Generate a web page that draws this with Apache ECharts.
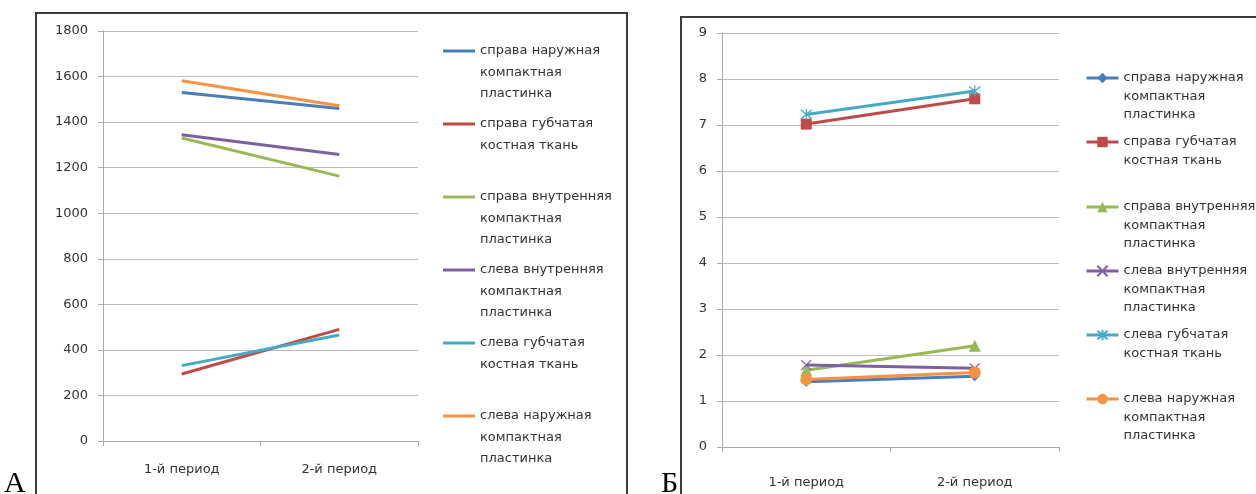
<!DOCTYPE html>
<html>
<head>
<meta charset="utf-8">
<script src="https://cdn.jsdelivr.net/npm/echarts@6/dist/echarts.min.js"></script>
<style>
html,body{margin:0;padding:0;background:#fff;}
#wrap{position:relative;width:1256px;height:494px;overflow:hidden;}
#chartA{position:absolute;left:0;top:0;width:640px;height:494px;}
#chartB{position:absolute;left:640px;top:0;width:616px;height:494px;}
</style>
</head>
<body>
<div id="wrap"><div id="chartA"></div><div id="chartB"></div></div>
<script>
// ---- data ----
const categories = ['1-й период', '2-й период'];
const seriesNames = [
  'справа наружная\nкомпактная\nпластинка',
  'справа губчатая\nкостная ткань',
  'справа внутренняя\nкомпактная\nпластинка',
  'слева внутренняя\nкомпактная\nпластинка',
  'слева губчатая\nкостная ткань',
  'слева наружная\nкомпактная\nпластинка'
];
// Chart А
const aRightOuter  = [1530, 1460];
const aRightSpongy = [294, 490];
const aRightInner  = [1330, 1163];
const aLeftInner   = [1345, 1258];
const aLeftSpongy  = [331, 465];
const aLeftOuter   = [1582, 1472];
const aAxisMax = 1800, aAxisStep = 200;
// Chart Б
const bRightOuter  = [1.42, 1.54];
const bRightSpongy = [7.02, 7.57];
const bRightInner  = [1.67, 2.20];
const bLeftInner   = [1.78, 1.71];
const bLeftSpongy  = [7.23, 7.74];
const bLeftOuter   = [1.47, 1.62];
const bAxisMax = 9, bAxisStep = 1;
const panelLabels = ['А', 'Б'];

// ---- styles ----
const colors = ['#4A7EBB', '#BE4B48', '#98B954', '#7D60A0', '#46AAC5', '#F69240'];
const FONT = 'DejaVu Sans';
const TXT = '#333333';
const GRIDC = '#bdbdbd';
const AXC = '#ababab';

// legend entry whose icon lines up with the first text line
function legendFor(name, left, iconY, lh, itemWidth, itemHeight, icon) {
  const n = name.split('\n').length;
  const lead = Array(n - 1).fill(' ').join('\n');
  const total = 2 * n - 1;
  const lg = {
    show: true, orient: 'vertical', left: left, top: iconY - total * lh / 2,
    padding: 0, itemGap: 0, itemWidth: itemWidth, itemHeight: itemHeight,
    selectedMode: false, data: [name],
    lineStyle: {width: 3},
    formatter: (nm) => (lead ? lead + '\n' : '') + nm,
    textStyle: {fontFamily: FONT, fontSize: 13, color: TXT, lineHeight: lh}
  };
  if (icon) lg.icon = icon;
  return lg;
}

function axes(gridLeft, gridTop, gridW, gridH, max, step, xMargin) {
  return {
    grid: {left: gridLeft, top: gridTop, width: gridW, height: gridH, containLabel: false},
    xAxis: {
      type: 'category', data: categories, boundaryGap: true,
      axisLine: {lineStyle: {color: AXC, width: 1}},
      axisTick: {show: true, length: 5, lineStyle: {color: AXC}},
      axisLabel: {fontFamily: FONT, fontSize: 13, color: TXT, margin: xMargin},
      splitLine: {show: false}
    },
    yAxis: {
      type: 'value', min: 0, max: max, interval: step,
      axisLine: {show: true, lineStyle: {color: AXC, width: 1}},
      axisTick: {show: true, length: 5, lineStyle: {color: AXC}},
      axisLabel: {fontFamily: FONT, fontSize: 13, color: TXT, margin: 15, formatter: (v) => String(v)},
      splitLine: {show: true, lineStyle: {color: GRIDC, width: 1}}
    }
  };
}

// ---- Chart А ----
const aData = [aRightOuter, aRightSpongy, aRightInner, aLeftInner, aLeftSpongy, aLeftOuter];
const aIconY = [51, 124, 197, 270, 343, 416];
const chartA = echarts.init(document.getElementById('chartA'), null, {renderer: 'canvas'});
const baseA = axes(103, 31, 315, 410, aAxisMax, aAxisStep, 22);
chartA.setOption({
  animation: false,
  grid: baseA.grid, xAxis: baseA.xAxis, yAxis: baseA.yAxis,
  legend: seriesNames.map((nm, i) => legendFor(nm, 443, aIconY[i], 21.5, 32, 3, 'rect')),
  series: seriesNames.map((nm, i) => ({
    name: nm, type: 'line', data: aData[i], symbol: 'none',
    lineStyle: {color: colors[i], width: 3}, itemStyle: {color: colors[i]},
    emphasis: {disabled: true}, silent: true
  })),
  graphic: [
    {type: 'rect', shape: {x: 36, y: 13, width: 591, height: 520}, style: {fill: 'none', stroke: '#3c3c3c', lineWidth: 2}},
    {type: 'text', x: 4, y: 484, style: {text: panelLabels[0], font: '30px "Liberation Serif"', fill: '#000', textVerticalAlign: 'middle'}}
  ]
});

// ---- Chart Б ----
const bData = [bRightOuter, bRightSpongy, bRightInner, bLeftInner, bLeftSpongy, bLeftOuter];
const bIconY = [78, 142, 207, 271, 335, 399];
const bSymbols = [
  {symbol: 'diamond', size: 10, stroke: false},
  {symbol: 'rect', size: 11, stroke: false},
  {symbol: 'triangle', size: 12, stroke: false},
  {symbol: 'path://M0,0L10,10M10,0L0,10', size: 10, stroke: true},
  {symbol: 'path://M0,0L10,10M10,0L0,10M5,-1L5,11', size: 11, stroke: true},
  {symbol: 'circle', size: 12, stroke: false}
];
const chartB = echarts.init(document.getElementById('chartB'), null, {renderer: 'canvas'});
const baseB = axes(82, 33, 337, 414, bAxisMax, bAxisStep, 29);
chartB.setOption({
  animation: false,
  grid: baseB.grid, xAxis: baseB.xAxis, yAxis: baseB.yAxis,
  legend: seriesNames.map((nm, i) => legendFor(nm, 445, bIconY[i], 18.5, 32, 13, null)),
  series: seriesNames.map((nm, i) => {
    const s = bSymbols[i];
    return {
      name: nm, type: 'line', data: bData[i],
      symbol: s.symbol, symbolSize: s.size, showSymbol: true,
      lineStyle: {color: colors[i], width: 3},
      itemStyle: s.stroke
        ? {color: 'rgba(0,0,0,0)', borderColor: colors[i], borderWidth: 1.3}
        : {color: colors[i]},
      emphasis: {disabled: true}, silent: true
    };
  }),
  graphic: [
    {type: 'rect', shape: {x: 41, y: 17, width: 620, height: 520}, style: {fill: 'none', stroke: '#3c3c3c', lineWidth: 2}},
    {type: 'text', x: 21, y: 484, style: {text: panelLabels[1], font: '30px "Liberation Serif"', fill: '#000', textVerticalAlign: 'middle'}}
  ]
});
</script>
</body>
</html>
